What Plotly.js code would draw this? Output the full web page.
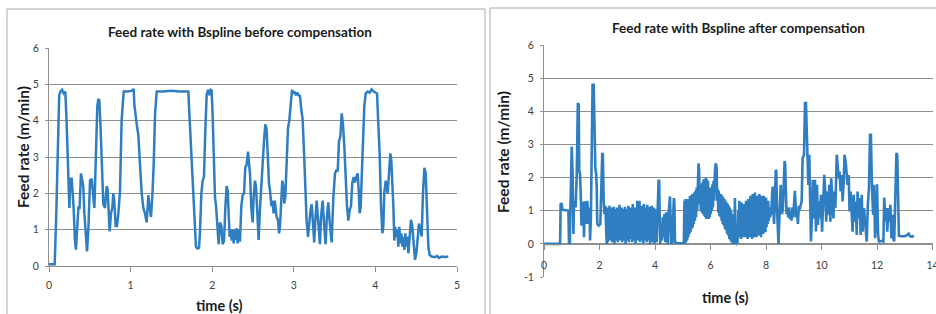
<!DOCTYPE html>
<html><head><meta charset="utf-8">
<script src="https://cdn.plot.ly/plotly-3.0.1.min.js"></script>
<style>html,body{margin:0;padding:0;background:#fff;}#chart{width:936px;height:314px;}</style>
</head><body><div id="chart"></div>
<script>
// [time (s), feed rate (m/min)]
const beforeSeries = [
[0,0.05],[0.07,0.05],[0.09,1.5],[0.11,3.8],[0.125,4.7],[0.14,4.8],[0.16,4.85],[0.18,4.75],[0.2,4.8],[0.215,4.0],[0.237,2.4],[0.25,1.6],[0.26,2.4],[0.278,2.4],[0.29,2.0],[0.302,1.6],[0.318,0.7],[0.33,0.45],[0.347,1.1],[0.36,1.6],[0.375,1.6],[0.392,2.55],[0.408,2.35],[0.42,2.2],[0.433,1.45],[0.45,0.9],[0.466,0.4],[0.482,1.0],[0.503,2.35],[0.523,2.4],[0.539,2.05],[0.556,1.6],[0.564,2.2],[0.576,3.3],[0.592,4.4],[0.605,4.6],[0.617,4.55],[0.63,3.9],[0.645,2.9],[0.666,1.7],[0.686,1.6],[0.707,2.2],[0.719,2.1],[0.731,1.2],[0.743,0.95],[0.76,1.45],[0.776,1.6],[0.788,2.0],[0.8,1.8],[0.817,1.1],[0.833,1.1],[0.85,1.45],[0.87,2.05],[0.89,4.0],[0.915,4.8],[0.964,4.8],[1.01,4.82],[1.038,4.87],[1.046,4.45],[1.075,3.9],[1.095,3.6],[1.115,2.8],[1.136,2.0],[1.156,1.6],[1.176,1.45],[1.197,1.2],[1.218,1.95],[1.234,1.6],[1.25,1.35],[1.266,1.9],[1.283,2.8],[1.3,4.2],[1.32,4.8],[1.4,4.8],[1.5,4.82],[1.6,4.8],
[1.708,4.8],[1.72,4.2],[1.736,3.4],[1.748,3.0],[1.769,2.1],[1.789,1.0],[1.801,0.53],[1.818,0.48],[1.838,0.5],[1.85,0.9],[1.867,2.0],[1.883,2.35],[1.899,2.45],[1.916,3.75],[1.932,4.7],[1.948,4.85],[1.965,4.7],[1.981,4.85],[1.993,4.83],[2.006,4.1],[2.022,2.9],[2.034,1.9],[2.047,1.65],[2.063,1.2],[2.079,0.6],[2.096,1.2],[2.112,1.1],[2.128,0.6],[2.145,0.7],[2.161,1.6],[2.177,2.2],[2.19,2.07],[2.202,1.45],[2.214,0.8],[2.226,1.0],[2.239,0.7],[2.251,1.0],[2.263,0.62],[2.275,1.0],[2.288,0.72],[2.3,1.04],[2.312,0.62],[2.328,1.0],[2.34,0.67],[2.357,1.65],[2.373,1.95],[2.39,2.0],[2.406,2.73],[2.422,2.78],[2.439,3.15],[2.451,2.83],[2.463,2.55],[2.479,1.6],[2.496,1.2],[2.508,1.9],[2.524,2.35],[2.537,2.18],[2.553,1.27],[2.569,0.72],[2.586,1.6],[2.602,2.1],[2.618,2.8],[2.635,3.45],[2.651,3.9],[2.667,3.75],[2.68,3.0],[2.696,2.27],[2.708,2.1],[2.725,1.65],[2.737,1.8],[2.753,1.45],[2.766,1.8],[2.778,1.54],[2.79,1.35],[2.806,1.27],[2.819,0.9],[2.831,1.1],[2.847,2.0],[2.859,2.35],[2.872,2.18],[2.884,1.72],[2.896,1.9],[2.913,2.8],[2.929,3.8],[2.945,4.0],[2.961,4.55],[2.978,4.85],[2.994,4.75],[3.01,4.8],[3.027,4.7],[3.043,4.77],[3.059,4.7],[3.076,4.68],[3.092,4.3],[3.108,4.05],[3.124,3.2],[3.141,2.2],[3.157,1.25],[3.174,0.8],
[3.19,1.2],[3.206,1.55],[3.22,1.7],[3.235,1.1],[3.25,0.65],[3.265,1.3],[3.28,1.8],[3.3,1.2],[3.32,0.6],[3.335,1.4],[3.354,1.8],[3.372,1.1],[3.39,0.6],[3.405,1.35],[3.423,1.75],[3.44,1.2],[3.464,0.65],[3.485,1.9],[3.505,2.55],[3.525,2.65],[3.538,2.6],[3.554,3.45],[3.57,3.55],[3.587,4.2],[3.603,3.9],[3.619,3.3],[3.636,2.4],[3.652,1.65],[3.668,1.25],[3.685,1.55],[3.701,1.65],[3.717,2.3],[3.734,2.45],[3.75,2.3],[3.766,2.45],[3.783,2.55],[3.795,2.1],[3.807,1.45],[3.819,1.6],[3.832,2.4],[3.848,3.45],[3.864,4.4],[3.881,4.75],[3.905,4.8],[3.93,4.77],[3.954,4.86],[3.979,4.8],[4.003,4.77],[4.02,4.75],[4.036,3.9],[4.052,3.1],[4.069,1.65],[4.085,0.9],[4.097,1.08],[4.109,2.0],[4.126,2.35],[4.138,2.2],[4.15,2.0],[4.167,2.55],[4.183,3.1],[4.195,2.9],[4.208,2.35],[4.22,1.65],[4.232,0.7],[4.244,1.08],[4.257,0.8],[4.269,0.99],[4.281,0.53],[4.293,1.08],[4.306,0.62],[4.318,0.9],[4.33,0.53],[4.342,0.8],[4.355,0.44],[4.367,0.9],[4.379,0.53],[4.391,0.8],[4.404,0.35],[4.42,0.8],[4.436,1.27],[4.453,1.08],[4.469,0.53],[4.485,0.17],[4.502,0.35],[4.518,0.81],[4.534,1.17],[4.551,0.99],[4.567,0.81],[4.583,2.0],[4.6,2.7],[4.616,2.57],[4.632,1.63],[4.649,0.53],[4.665,0.3],[4.69,0.26],[4.73,0.24],[4.755,0.28],[4.779,0.22],[4.812,0.26],[4.853,0.25],[4.894,0.26]
];
const afterSeries = [
[0,0],[0.58,0],[0.6,1.22],[0.64,1.2],[0.66,1.03],[0.75,1.02],[0.85,1.02],[0.88,1.0],[0.9,0.02],[0.93,0.03],[0.95,1.0],[0.98,2.4],[1.0,2.94],[1.03,2.1],[1.06,0.3],[1.08,1.2],[1.11,1.3],[1.14,1.1],[1.18,2.1],[1.22,4.25],[1.25,4.2],[1.27,2.2],[1.3,2.1],[1.33,1.3],[1.35,0.55],[1.38,1.1],[1.42,1.28],[1.44,0.2],[1.47,1.2],[1.5,1.28],[1.53,0.6],[1.56,1.3],[1.58,0.8],[1.61,0.6],[1.64,1.1],[1.66,0.1],[1.69,0.8],[1.72,3.6],[1.75,4.8],[1.79,4.8],[1.82,3.1],[1.85,2.3],[1.88,2.1],[1.9,1.7],[1.92,0.6],[1.97,0.55],[2.03,0.6],[2.06,1.3],[2.1,2.74],[2.12,2.7],[2.15,1.3],[2.18,0.9],[2.21,1.15],[2.24,0.2],[2.26,0.0],
[2.28,1.1],[2.30,0.05],[2.32,1.05],[2.34,0.2],[2.36,1.15],[2.38,0.1],[2.40,0.95],[2.42,0.3],[2.44,1.1],[2.46,0.05],[2.48,1.0],[2.50,0.15],[2.52,1.12],[2.54,0.0],[2.56,1.05],[2.58,0.25],[2.60,0.9],[2.62,0.1],[2.64,1.1],[2.66,0.05],[2.68,1.0],[2.70,0.2],[2.72,1.18],[2.74,0.1],[2.76,1.0],[2.78,0.3],[2.80,1.1],[2.82,0.05],[2.84,1.05],[2.86,0.2],[2.88,0.95],[2.90,0.1],[2.92,1.12],[2.94,0.0],[2.96,1.05],[2.98,0.25],[3.00,1.0],[3.02,0.1],[3.04,1.15],[3.06,0.05],[3.08,1.0],[3.10,0.3],[3.12,1.1],[3.14,0.15],[3.16,0.95],[3.18,0.05],[3.20,1.2],[3.22,0.1],[3.24,1.05],[3.26,0.25],[3.28,1.1],[3.30,0.0],[3.32,1.0],[3.34,0.2],[3.36,1.3],[3.38,0.1],[3.40,1.05],[3.42,0.3],[3.44,1.3],[3.46,0.05],[3.48,1.0],[3.50,0.2],[3.52,1.15],[3.54,0.1],[3.56,1.05],[3.58,0.0],[3.60,1.2],[3.62,0.25],[3.64,0.95],[3.66,0.1],[3.68,1.1],[3.70,0.05],[3.72,1.18],[3.74,0.2],[3.76,1.0],[3.78,0.1],[3.80,1.12],[3.82,0.0],[3.84,1.05],[3.86,0.25],[3.88,1.15],[3.90,0.05],[3.92,1.0],[3.94,0.15],[3.96,1.1],[3.98,0.0],[4.00,1.05],[4.02,0.1],[4.04,1.0],[4.06,0.05],
[4.08,0.6],[4.10,1.2],[4.13,1.93],[4.15,1.9],[4.17,0.8],[4.19,0.0],[4.22,0.6],[4.25,0.1],[4.28,0.8],[4.31,0.2],[4.34,0.9],[4.37,0.05],[4.40,0.95],[4.43,0.3],[4.46,0.0],[4.49,0.9],[4.52,1.4],[4.54,1.43],[4.56,0.8],[4.58,0.0],[4.62,0.05],[4.65,1.0],[4.68,1.38],[4.70,1.2],[4.72,0.05],[4.80,0.02],[4.90,0.03],[5.00,0.02],[5.04,0.05],
[5.06,1.3],[5.08,0.0],[5.10,1.35],[5.12,0.05],[5.14,1.2],[5.16,0.1],[5.18,1.35],[5.20,0.2],[5.22,1.3],[5.24,0.3],[5.26,1.45],[5.28,0.35],[5.30,1.4],[5.32,0.45],[5.34,1.5],[5.36,0.5],[5.38,1.45],[5.40,0.6],[5.42,1.55],[5.44,0.7],[5.46,1.6],[5.48,0.8],[5.50,1.7],[5.52,1.0],[5.55,2.2],[5.57,2.43],[5.59,2.2],[5.61,1.2],
[5.63,1.7],[5.65,1.0],[5.67,1.8],[5.69,0.95],[5.71,1.85],[5.73,0.9],[5.75,1.95],[5.77,0.85],[5.79,1.9],[5.81,0.8],[5.83,2.0],[5.85,0.75],[5.87,1.95],[5.89,0.8],[5.91,1.9],[5.93,0.75],[5.95,1.7],[5.97,0.8],[5.99,1.6],[6.01,0.9],[6.03,1.7],[6.05,1.0],[6.07,1.8],[6.09,1.1],[6.11,1.9],[6.13,1.3],[6.16,2.2],[6.19,2.43],[6.22,2.3],[6.24,1.3],
[6.26,1.65],[6.28,0.95],[6.30,1.6],[6.32,0.85],[6.34,1.5],[6.36,0.8],[6.38,1.5],[6.40,0.7],[6.42,1.45],[6.44,0.6],[6.46,1.4],[6.48,0.55],[6.50,1.35],[6.52,0.45],[6.54,1.3],[6.56,0.4],[6.58,1.25],[6.60,0.3],[6.62,1.2],[6.64,0.25],[6.66,1.15],[6.68,0.15],[6.70,1.1],[6.72,0.1],[6.74,1.0],[6.76,0.05],[6.78,0.9],[6.80,0.0],[6.83,0.02],[6.86,0.0],[6.88,1.38],[6.90,0.05],[6.94,0.0],[6.97,0.03],[7.0,1.0],
[7.02,0.2],[7.04,1.3],[7.06,0.3],[7.08,1.1],[7.10,0.15],[7.12,1.25],[7.14,0.3],[7.16,1.05],[7.18,0.2],[7.20,1.2],[7.22,0.35],[7.24,1.1],[7.26,0.2],[7.28,1.3],[7.30,0.25],[7.32,1.2],[7.34,0.15],[7.36,1.35],[7.38,0.3],[7.40,1.25],[7.42,0.2],[7.44,1.45],[7.46,0.3],[7.48,1.3],[7.50,0.15],[7.52,1.5],[7.54,0.25],[7.56,1.35],[7.58,0.2],[7.60,1.55],[7.62,0.3],[7.64,1.4],[7.66,0.2],[7.68,1.45],[7.70,0.35],[7.72,1.3],[7.74,0.25],[7.76,1.5],[7.78,0.3],[7.80,1.4],[7.82,0.2],[7.84,1.45],[7.86,0.35],[7.88,1.35],[7.90,0.3],[7.92,1.45],[7.94,0.4],[7.96,1.3],[7.98,0.35],[8.00,1.4],[8.02,0.5],[8.04,1.2],[8.06,0.6],[8.08,1.3],[8.10,0.7],[8.12,1.1],[8.14,0.8],
[8.16,0.9],[8.19,0.95],[8.22,1.5],[8.24,1.73],[8.26,1.2],[8.29,0.6],[8.32,1.3],[8.35,2.23],[8.37,2.2],[8.40,1.0],[8.43,0.3],[8.45,0.0],[8.47,0.5],[8.50,1.2],[8.53,1.78],[8.55,1.3],[8.58,0.9],[8.61,1.1],[8.64,2.0],[8.67,2.5],[8.69,2.4],[8.71,1.4],[8.74,0.9],[8.77,1.0],[8.80,0.8],[8.83,1.1],[8.86,0.75],[8.89,0.9],[8.92,0.7],[8.95,1.1],[8.98,0.8],[9.01,1.2],[9.04,1.6],[9.06,1.3],[9.09,0.8],[9.12,1.0],[9.15,0.6],[9.18,1.1],[9.2,1.08],
[9.225,1.08],[9.285,1.28],[9.32,2.59],[9.37,2.69],[9.405,4.25],[9.44,4.25],[9.49,2.69],[9.525,1.78],[9.56,2.69],[9.585,1.48],[9.62,0.07],[9.66,0.88],[9.69,1.93],[9.73,0.77],[9.765,1.93],[9.8,0.37],[9.84,1.78],[9.87,0.57],[9.91,1.28],[9.945,0.77],[9.98,1.48],[10.02,0.37],[10.07,1.28],[10.1,2.08],[10.14,1.48],[10.17,0.67],[10.21,1.58],[10.25,0.88],[10.28,1.78],[10.32,0.67],[10.35,1.98],[10.39,1.28],[10.43,0.77],[10.46,1.58],[10.5,1.08],[10.55,2.69],[10.58,2.38],[10.62,1.98],[10.65,2.18],[10.69,1.58],[10.73,2.08],[10.76,1.28],[10.8,1.88],[10.83,2.69],[10.87,2.49],[10.9,2.18],[10.94,1.78],[10.98,2.08],[11.01,0.98],[11.05,1.58],[11.09,1.08],[11.12,0.37],[11.16,1.48],[11.2,0.67],[11.23,1.28],[11.27,0.27],[11.3,1.58],[11.34,0.77],[11.38,1.38],[11.41,0.27],[11.45,1.48],[11.48,0.37],[11.53,1.08],[11.58,0.67],[11.63,0.07],[11.67,1.18],[11.71,1.68],[11.75,3.29],[11.78,3.29],[11.82,1.68],[11.86,0.88],[11.89,1.78],[11.93,0.17],[11.96,0.67],[12.0,1.8],[12.04,0.27],[12.07,0.07],[12.11,0.07],[12.18,0.09],[12.23,0.07],[12.26,1.4],[12.3,0.67],[12.34,1.08],[12.37,0.37],[12.41,1.08],[12.44,0.67],[12.48,1.18],[12.52,0.17],[12.55,0.88],[12.59,0.17],[12.62,0.07],[12.66,1.38],[12.7,2.74],[12.73,2.69],[12.77,0.47],[12.79,0.24],[12.89,0.23],[13.01,0.23],[13.09,0.27],[13.14,0.31],[13.19,0.23],[13.26,0.21],[13.33,0.25]
];
const beforeXTicks = [0,1,2,3,4,5];
const beforeYTicks = [0,1,2,3,4,5,6];
const afterXTicks = [0,2,4,6,8,10,12,14];
const afterYTicks = [-1,0,1,2,3,4,5,6];
const titles = {
  before: 'Feed rate with Bspline before compensation',
  after: 'Feed rate with Bspline after compensation',
  x: 'time (s)',
  y: 'Feed rate (m/min)'
};

const W = 936, H = 314;
const px = v => v / W;
const py = v => (H - v) / H;
const LINE = '#2f7ec2';
const GRID = '#8f8f8f';
const FONT = 'Lato, "Open Sans", sans-serif';
const tickFont = {family: FONT, size: 10.5, color: '#404040'};

const traces = [
  {x: beforeSeries.map(p => p[0]), y: beforeSeries.map(p => p[1]), xaxis: 'x', yaxis: 'y',
   type: 'scatter', mode: 'lines', line: {color: LINE, width: 2.5}, hoverinfo: 'skip'},
  {x: afterSeries.map(p => p[0]), y: afterSeries.map(p => p[1]), xaxis: 'x2', yaxis: 'y2',
   type: 'scatter', mode: 'lines', line: {color: LINE, width: 2.6}, hoverinfo: 'skip'}
];

const xBase = {showgrid: false, zeroline: false, showline: true, linecolor: GRID, linewidth: 1,
  ticks: 'outside', ticklen: 5, tickcolor: GRID, tickfont: tickFont, tickmode: 'array', fixedrange: true,
  ticklabeloverflow: 'allow'};
const yBase = {showgrid: true, gridcolor: GRID, gridwidth: 1, zeroline: false, showline: true,
  linecolor: GRID, linewidth: 1, ticks: 'outside', ticklen: 3, tickcolor: GRID, tickfont: tickFont,
  tickmode: 'array', fixedrange: true, ticklabelstandoff: 4};

const layout = {
  width: W, height: H, margin: {l: 0, r: 0, t: 0, b: 0}, showlegend: false,
  paper_bgcolor: '#fff', plot_bgcolor: 'rgba(0,0,0,0)',
  xaxis: Object.assign({}, xBase, {domain: [px(49), px(457)], range: [0, 5], anchor: 'y',
    tickvals: beforeXTicks, ticktext: beforeXTicks.map(String), ticklabelstandoff: 4}),
  yaxis: Object.assign({}, yBase, {domain: [py(266), py(48)], range: [0, 6], anchor: 'x',
    tickvals: beforeYTicks, ticktext: beforeYTicks.map(String)}),
  xaxis2: Object.assign({}, xBase, {domain: [px(544), px(932.5)], range: [0, 14], anchor: 'free',
    position: py(244), tickvals: afterXTicks, ticktext: afterXTicks.map(String), ticklabelstandoff: 6}),
  yaxis2: Object.assign({}, yBase, {domain: [py(277), py(45)], range: [-1, 6], anchor: 'x2',
    tickvals: afterYTicks, ticktext: afterYTicks.map(String)}),
  shapes: [
    {type: 'rect', xref: 'paper', yref: 'paper', x0: px(7), x1: px(485), y0: -0.2, y1: py(9),
     line: {color: '#a8a8a8', width: 1}, fillcolor: 'rgba(0,0,0,0)', layer: 'below'},
    {type: 'rect', xref: 'paper', yref: 'paper', x0: px(490), x1: 1.2, y0: -0.2, y1: py(8),
     line: {color: '#a8a8a8', width: 1}, fillcolor: 'rgba(0,0,0,0)', layer: 'below'}
  ],
  annotations: [
    {text: '<b>' + titles.before + '</b>', xref: 'paper', yref: 'paper', x: px(240), y: py(32),
     xanchor: 'center', yanchor: 'middle', showarrow: false, font: {family: FONT, size: 13.5, color: '#1a1a1a'}},
    {text: '<b>' + titles.after + '</b>', xref: 'paper', yref: 'paper', x: px(738), y: py(28),
     xanchor: 'center', yanchor: 'middle', showarrow: false, font: {family: FONT, size: 13.5, color: '#1a1a1a'}},
    {text: '<b>' + titles.x + '</b>', xref: 'paper', yref: 'paper', x: px(219), y: py(305),
     xanchor: 'center', yanchor: 'middle', showarrow: false, font: {family: FONT, size: 14.5, color: '#1a1a1a'}},
    {text: '<b>' + titles.x + '</b>', xref: 'paper', yref: 'paper', x: px(725), y: py(297),
     xanchor: 'center', yanchor: 'middle', showarrow: false, font: {family: FONT, size: 14.5, color: '#1a1a1a'}},
    {text: '<b>' + titles.y + '</b>', xref: 'paper', yref: 'paper', x: px(23), y: py(147),
     xanchor: 'center', yanchor: 'middle', textangle: -90, showarrow: false, font: {family: FONT, size: 15.5, color: '#1a1a1a'}},
    {text: '<b>' + titles.y + '</b>', xref: 'paper', yref: 'paper', x: px(503), y: py(152),
     xanchor: 'center', yanchor: 'middle', textangle: -90, showarrow: false, font: {family: FONT, size: 15.5, color: '#1a1a1a'}}
  ]
};

Plotly.newPlot('chart', traces, layout, {staticPlot: true, displayModeBar: false});
</script>
</body></html>
